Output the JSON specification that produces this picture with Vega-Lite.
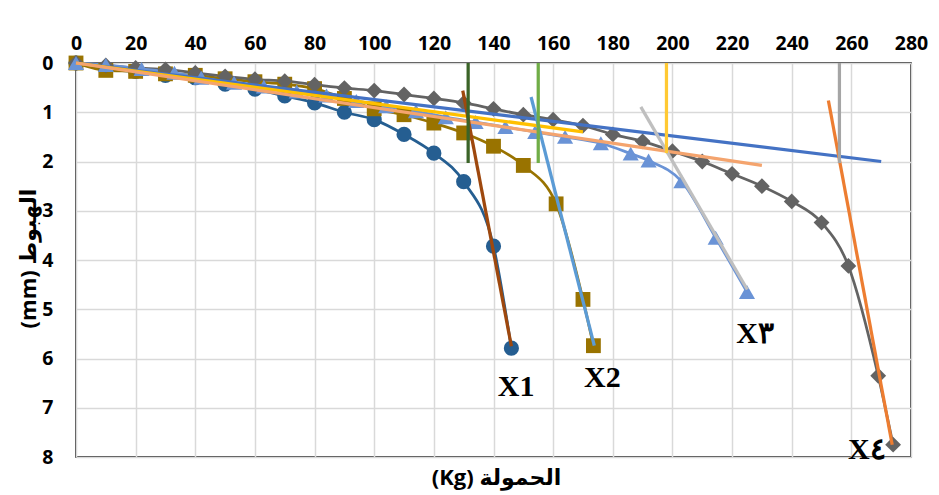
{
  "$schema": "https://vega.github.io/schema/vega-lite/v6.json",
  "width": 835,
  "height": 394,
  "autosize": {"type": "none"},
  "padding": {"left": 76, "top": 63, "right": 28, "bottom": 38},
  "background": "white",
  "config": {
    "view": {"stroke": "black", "strokeWidth": 1.5},
    "axis": {
      "labelFont": "Open Sans",
      "labelFontWeight": "bold",
      "labelFontSize": 19.5,
      "labelColor": "black",
      "titleFont": "Open Sans, DejaVu Sans",
      "titleFontWeight": "bold",
      "titleFontSize": 22,
      "titleColor": "black",
      "gridColor": "#D9D9D9",
      "gridWidth": 1.5,
      "ticks": false,
      "domain": false
    }
  },
  "resolve": {"scale": {"color": "independent"}},
  "datasets": {
    "series": [
      {"load": 0, "settle": 0, "s": "X1"},
      {"load": 10, "settle": 0.13, "s": "X1"},
      {"load": 20, "settle": 0.17, "s": "X1"},
      {"load": 30, "settle": 0.25, "s": "X1"},
      {"load": 40, "settle": 0.3, "s": "X1"},
      {"load": 50, "settle": 0.43, "s": "X1"},
      {"load": 60, "settle": 0.53, "s": "X1"},
      {"load": 70, "settle": 0.67, "s": "X1"},
      {"load": 80, "settle": 0.81, "s": "X1"},
      {"load": 90, "settle": 1.0, "s": "X1"},
      {"load": 100, "settle": 1.15, "s": "X1"},
      {"load": 110, "settle": 1.45, "s": "X1"},
      {"load": 120, "settle": 1.83, "s": "X1"},
      {"load": 130, "settle": 2.41, "s": "X1"},
      {"load": 140, "settle": 3.72, "s": "X1"},
      {"load": 146, "settle": 5.79, "s": "X1"},
      {"load": 0, "settle": 0, "s": "X2"},
      {"load": 10, "settle": 0.15, "s": "X2"},
      {"load": 20, "settle": 0.17, "s": "X2"},
      {"load": 30, "settle": 0.22, "s": "X2"},
      {"load": 40, "settle": 0.25, "s": "X2"},
      {"load": 50, "settle": 0.32, "s": "X2"},
      {"load": 60, "settle": 0.38, "s": "X2"},
      {"load": 70, "settle": 0.43, "s": "X2"},
      {"load": 80, "settle": 0.52, "s": "X2"},
      {"load": 90, "settle": 0.72, "s": "X2"},
      {"load": 100, "settle": 0.93, "s": "X2"},
      {"load": 110, "settle": 1.05, "s": "X2"},
      {"load": 120, "settle": 1.22, "s": "X2"},
      {"load": 130, "settle": 1.42, "s": "X2"},
      {"load": 140, "settle": 1.69, "s": "X2"},
      {"load": 150, "settle": 2.08, "s": "X2"},
      {"load": 161, "settle": 2.86, "s": "X2"},
      {"load": 170, "settle": 4.8, "s": "X2"},
      {"load": 173.5, "settle": 5.74, "s": "X2"},
      {"load": 0, "settle": 0, "s": "X4"},
      {"load": 10, "settle": 0.05, "s": "X4"},
      {"load": 20, "settle": 0.1, "s": "X4"},
      {"load": 30, "settle": 0.13, "s": "X4"},
      {"load": 40, "settle": 0.2, "s": "X4"},
      {"load": 50, "settle": 0.27, "s": "X4"},
      {"load": 60, "settle": 0.33, "s": "X4"},
      {"load": 70, "settle": 0.37, "s": "X4"},
      {"load": 80, "settle": 0.44, "s": "X4"},
      {"load": 90, "settle": 0.51, "s": "X4"},
      {"load": 100, "settle": 0.56, "s": "X4"},
      {"load": 110, "settle": 0.64, "s": "X4"},
      {"load": 120, "settle": 0.72, "s": "X4"},
      {"load": 130, "settle": 0.81, "s": "X4"},
      {"load": 140, "settle": 0.93, "s": "X4"},
      {"load": 150, "settle": 1.05, "s": "X4"},
      {"load": 160, "settle": 1.15, "s": "X4"},
      {"load": 170, "settle": 1.27, "s": "X4"},
      {"load": 180, "settle": 1.45, "s": "X4"},
      {"load": 190, "settle": 1.59, "s": "X4"},
      {"load": 200, "settle": 1.79, "s": "X4"},
      {"load": 210, "settle": 2.0, "s": "X4"},
      {"load": 220, "settle": 2.25, "s": "X4"},
      {"load": 230, "settle": 2.5, "s": "X4"},
      {"load": 240, "settle": 2.81, "s": "X4"},
      {"load": 250, "settle": 3.24, "s": "X4"},
      {"load": 259, "settle": 4.12, "s": "X4"},
      {"load": 269, "settle": 6.35, "s": "X4"},
      {"load": 274, "settle": 7.75, "s": "X4"},
      {"load": 0, "settle": 0, "s": "X3"},
      {"load": 10, "settle": 0.04, "s": "X3"},
      {"load": 22, "settle": 0.12, "s": "X3"},
      {"load": 33, "settle": 0.2, "s": "X3"},
      {"load": 42, "settle": 0.3, "s": "X3"},
      {"load": 53, "settle": 0.4, "s": "X3"},
      {"load": 63, "settle": 0.48, "s": "X3"},
      {"load": 74, "settle": 0.58, "s": "X3"},
      {"load": 84, "settle": 0.66, "s": "X3"},
      {"load": 94, "settle": 0.77, "s": "X3"},
      {"load": 104, "settle": 0.88, "s": "X3"},
      {"load": 114, "settle": 0.98, "s": "X3"},
      {"load": 124, "settle": 1.1, "s": "X3"},
      {"load": 134, "settle": 1.2, "s": "X3"},
      {"load": 144, "settle": 1.3, "s": "X3"},
      {"load": 154, "settle": 1.4, "s": "X3"},
      {"load": 164, "settle": 1.5, "s": "X3"},
      {"load": 176, "settle": 1.63, "s": "X3"},
      {"load": 186, "settle": 1.84, "s": "X3"},
      {"load": 192, "settle": 1.98, "s": "X3"},
      {"load": 203, "settle": 2.4, "s": "X3"},
      {"load": 214.5, "settle": 3.55, "s": "X3"},
      {"load": 225, "settle": 4.65, "s": "X3"}
    ],
    "lines": [
      {"load": 0, "settle": 0, "id": "blue"},
      {"load": 270, "settle": 2.0, "id": "blue"},
      {"load": 0, "settle": 0, "id": "yellow"},
      {"load": 170, "settle": 1.4, "id": "yellow"},
      {"load": 0, "settle": 0, "id": "peach"},
      {"load": 230, "settle": 2.08, "id": "peach"},
      {"load": 129.7, "settle": 0.56, "id": "brown"},
      {"load": 146, "settle": 5.75, "id": "brown"},
      {"load": 152.6, "settle": 0.69, "id": "lightblue"},
      {"load": 173.8, "settle": 5.74, "id": "lightblue"},
      {"load": 189.4, "settle": 0.89, "id": "lightgray"},
      {"load": 225.1, "settle": 4.6, "id": "lightgray"},
      {"load": 252.3, "settle": 0.76, "id": "orange"},
      {"load": 273.7, "settle": 7.75, "id": "orange"},
      {"load": 131.5, "settle": 0, "id": "vdarkgreen"},
      {"load": 131.5, "settle": 2.03, "id": "vdarkgreen"},
      {"load": 155, "settle": 0, "id": "vgreen"},
      {"load": 155, "settle": 2.03, "id": "vgreen"},
      {"load": 198, "settle": 0, "id": "vyellow"},
      {"load": 198, "settle": 1.83, "id": "vyellow"},
      {"load": 256, "settle": 0, "id": "vgray"},
      {"load": 256, "settle": 2.03, "id": "vgray"}
    ],
    "labels": [
      {"load": 147.6, "settle": 6.57, "text": "X1"},
      {"load": 176.5, "settle": 6.39, "text": "X2"},
      {"load": 227.7, "settle": 5.5, "text": "X٣"},
      {"load": 265.2, "settle": 7.85, "text": "X٤"}
    ]
  },
  "encoding": {
    "x": {
      "field": "load",
      "type": "quantitative",
      "scale": {"domain": [0, 280], "nice": false, "zero": false},
      "axis": {
        "orient": "top",
        "values": [0, 20, 40, 60, 80, 100, 120, 140, 160, 180, 200, 220, 240, 260, 280],
        "labelPadding": 20,
        "labelBaseline": "middle",
        "labelFlush": false,
        "title": "(Kg) الحمولة",
        "titleX": 420,
        "titleY": 414,
        "titleBaseline": "middle",
        "titleAnchor": "middle"
      }
    },
    "y": {
      "field": "settle",
      "type": "quantitative",
      "scale": {"domain": [0, 8], "reverse": true, "nice": false, "zero": false},
      "axis": {
        "values": [0, 1, 2, 3, 4, 5, 6, 7, 8],
        "labelPadding": 23,
        "labelFlush": false,
        "title": "(mm) الهبوط",
        "titleX": -48,
        "titleY": 195,
        "titleAngle": -90,
        "titleBaseline": "middle",
        "titleAnchor": "middle"
      }
    }
  },
  "layer": [
    {
      "data": {"name": "series"},
      "mark": {"type": "line", "interpolate": "monotone", "strokeWidth": 2.75},
      "encoding": {
        "detail": {"field": "s"},
        "color": {
          "field": "s",
          "type": "nominal",
          "scale": {"domain": ["X1", "X2", "X3", "X4"], "range": ["#255E91", "#997300", "#6A93D6", "#636363"]},
          "legend": null
        }
      }
    },
    {
      "data": {"name": "series"},
      "transform": [{"filter": "datum.s == 'X1'"}],
      "mark": {"type": "point", "shape": "circle", "filled": true, "opacity": 1, "size": 230, "color": "#255E91"}
    },
    {
      "data": {"name": "series"},
      "transform": [{"filter": "datum.s == 'X2'"}],
      "mark": {"type": "point", "shape": "square", "filled": true, "opacity": 1, "size": 220, "color": "#997300"}
    },
    {
      "data": {"name": "series"},
      "transform": [{"filter": "datum.s == 'X4'"}],
      "mark": {"type": "point", "shape": "diamond", "filled": true, "opacity": 1, "size": 250, "color": "#636363"}
    },
    {
      "data": {"name": "series"},
      "transform": [{"filter": "datum.s == 'X3'"}],
      "mark": {"type": "point", "shape": "triangle-up", "filled": true, "opacity": 1, "size": 260, "color": "#6A93D6"}
    },
    {
      "data": {"name": "lines"},
      "mark": {"type": "line", "strokeWidth": 3.25},
      "encoding": {
        "detail": {"field": "id"},
        "color": {
          "field": "id",
          "type": "nominal",
          "scale": {
            "domain": ["blue", "yellow", "peach", "brown", "lightblue", "lightgray", "orange", "vdarkgreen", "vgreen", "vyellow", "vgray"],
            "range": ["#4472C4", "#FFC000", "#F4A46E", "#9E480E", "#5B9BD5", "#BFBFBF", "#ED7D31", "#3B6428", "#70AD47", "#FFC933", "#A5A5A5"]
          },
          "legend": null
        }
      }
    },
    {
      "data": {"name": "labels"},
      "mark": {"type": "text", "font": "Liberation Serif", "fontWeight": "bold", "fontSize": 30, "color": "black", "align": "center", "baseline": "middle"},
      "encoding": {"text": {"field": "text"}}
    }
  ]
}
